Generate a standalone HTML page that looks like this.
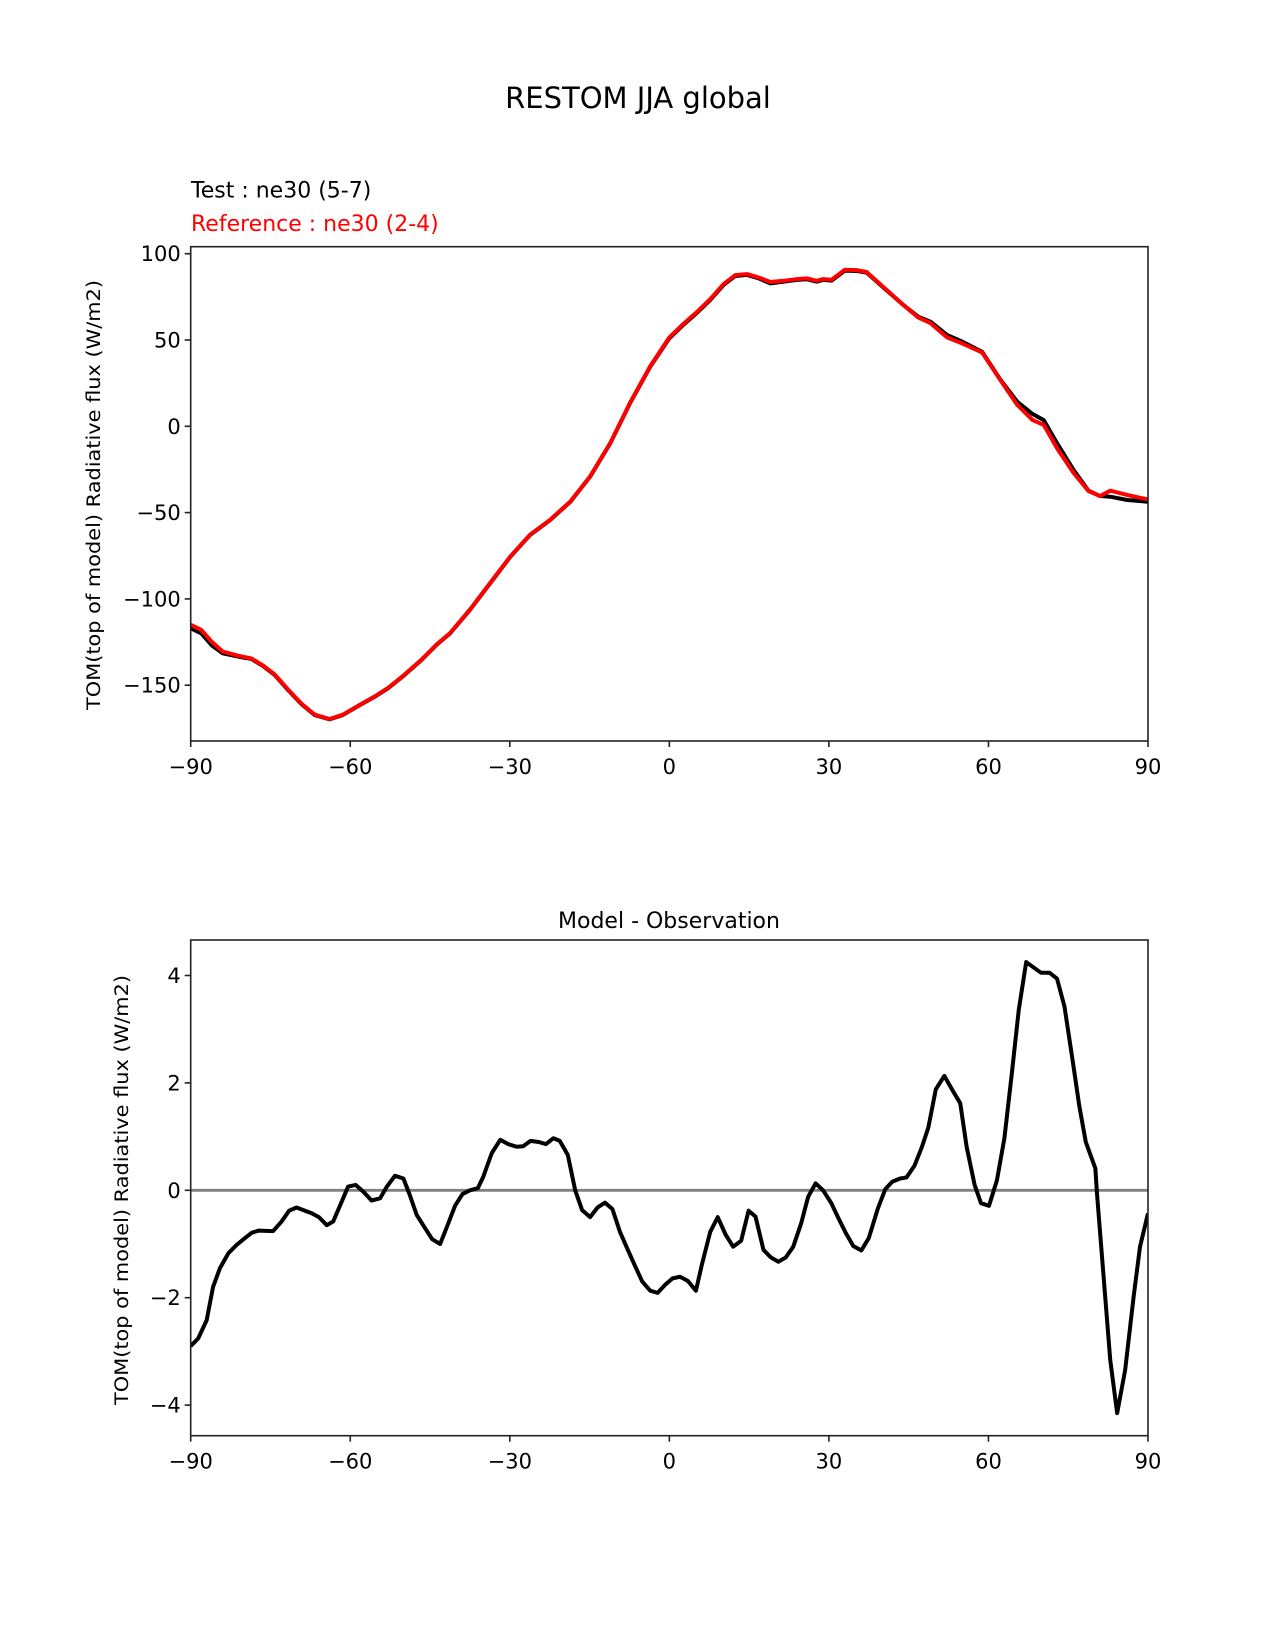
<!DOCTYPE html>
<html><head><meta charset="utf-8"><title>RESTOM JJA global</title>
<style>html,body{margin:0;padding:0;background:#fff;}svg{display:block;font-family:"DejaVu Sans","Liberation Sans",sans-serif;}</style>
</head><body>
<svg id="fig" width="1275" height="1650" viewBox="0 0 1275 1650" xmlns="http://www.w3.org/2000/svg">
<rect x="0" y="0" width="1275" height="1650" fill="#fff"/>
<text x="638" y="108" font-size="29" text-anchor="middle" fill="#000">RESTOM JJA global</text>
<text x="191" y="197.7" font-size="22" fill="#000">Test : ne30 (5-7)</text>
<text x="191" y="231" font-size="22" fill="#ff0000">Reference : ne30 (2-4)</text>
<text x="0" y="0" font-size="18.5" text-anchor="middle" transform="translate(100,495) rotate(-90)" textLength="430" lengthAdjust="spacingAndGlyphs">TOM(top of model) Radiative flux (W/m2)</text>
<text x="669" y="928" font-size="22" text-anchor="middle">Model - Observation</text>
<text x="0" y="0" font-size="18.5" text-anchor="middle" transform="translate(128,1190) rotate(-90)" textLength="430" lengthAdjust="spacingAndGlyphs">TOM(top of model) Radiative flux (W/m2)</text>
<defs>
<clipPath id="clipTop"><rect x="190.7" y="246.7" width="957.3" height="494.3"/></clipPath>
<clipPath id="clipBot"><rect x="190.7" y="940" width="957.3" height="495.7"/></clipPath>
</defs>
<g id="top"></g>
<g id="bot"></g>
</svg>
<script>
const topLat = [-90,-88,-86,-84,-81,-78.6,-76.4,-74.2,-71.7,-69.2,-66.7,-63.9,-61.4,-58.5,-55.4,-52.9,-49.8,-46.6,-43.8,-41.2,-37.5,-33.7,-29.9,-26.2,-22.4,-18.6,-14.9,-11.1,-7.4,-3.6,0,2.6,5.1,7.7,10.2,12.4,14.6,16.8,19,21.5,24,25.8,27.7,28.9,30.5,33,35.2,37.1,40.2,44,46.8,49.1,52.2,54.7,58.8,62.3,65.4,68.3,70.4,72.9,76,78.8,81,82.9,86.1,90];
const testValues = [-117,-120,-127,-131.5,-133.5,-134.8,-138.9,-144.1,-152.8,-160.9,-167.3,-169.8,-167.3,-162.1,-156.7,-151.8,-144.1,-135.4,-126.7,-119.9,-106.4,-91,-75.6,-63,-54.3,-43.7,-29.2,-9.8,13.3,34.5,51,58.7,65.5,73.2,81.9,87.1,87.7,85.7,82.8,83.8,84.8,85.2,83.8,84.8,84.4,90.2,90,89,80.5,70.3,63.5,60.6,52.9,49.6,43.2,26.8,14.3,7.1,3.6,-9.8,-25.3,-37.3,-40.4,-40.8,-42.7,-43.7];
const refValues = [-115,-118,-125,-130.5,-133,-134.5,-138.6,-143.8,-152.5,-160.6,-167,-169.6,-167.1,-161.9,-156.5,-151.6,-143.9,-135.2,-126.5,-119.7,-106.2,-90.8,-75.4,-62.8,-54.1,-43.5,-29,-9.6,13.6,34.8,51.5,59.2,66,73.7,82.4,87.6,88.2,86.2,83.6,84.3,85.3,85.7,84.3,85.3,84.9,90.7,90.5,89.4,80.8,70.3,63,59.8,51.5,48.5,42.8,26.5,12.5,3.6,0.8,-12.7,-27,-37.5,-40.4,-37.3,-39.8,-42.4];
const topYTicks = [100,50,0,-50,-100,-150];
const xTicks = [-90,-60,-30,0,30,60,90];
const botLat = [-90,-88.6,-87,-85.8,-84.5,-82.9,-81.4,-79.8,-78.5,-77.2,-74.5,-72.9,-71.5,-70.1,-67.2,-65.9,-64.4,-63.2,-61.6,-60.4,-59,-57.5,-56,-54.4,-53.1,-51.6,-50,-48.8,-47.5,-45.9,-44.6,-43.1,-41.7,-40.3,-38.9,-37.5,-36,-35,-33.4,-31.8,-30.3,-28.7,-27.5,-26.1,-24.6,-23.2,-21.8,-20.6,-19.1,-17.7,-16.4,-14.9,-13.5,-12.1,-10.7,-9.3,-7.8,-6.4,-5.1,-3.6,-2.2,-0.8,0.6,2,3.5,5,6.1,7.7,9.1,10.6,12,13.5,14.9,16.2,17.7,19.1,20.5,21.9,23.3,24.8,26.1,27.5,28.9,30.4,31.8,33.2,34.6,36.1,37.5,39.2,40.6,41.9,43.4,44.6,46.1,47.5,48.7,50.1,51.7,53.2,54.7,55.9,57.4,58.6,60.1,61.6,63,64.4,65.7,67.1,69.9,71.5,72.9,74.3,75.9,77.1,78.3,80.1,80.4,82,82.9,84.2,85.7,87.3,88.5,90];
const diffValues = [-2.9,-2.76,-2.42,-1.8,-1.45,-1.17,-1.02,-0.89,-0.79,-0.75,-0.76,-0.58,-0.38,-0.32,-0.43,-0.5,-0.65,-0.58,-0.21,0.07,0.1,-0.03,-0.19,-0.15,0.07,0.27,0.22,-0.09,-0.46,-0.71,-0.91,-1.0,-0.65,-0.29,-0.07,0,0.04,0.25,0.69,0.94,0.86,0.81,0.82,0.92,0.9,0.86,0.97,0.92,0.66,0,-0.37,-0.5,-0.32,-0.23,-0.35,-0.77,-1.11,-1.42,-1.7,-1.87,-1.91,-1.76,-1.64,-1.61,-1.69,-1.87,-1.39,-0.77,-0.5,-0.83,-1.05,-0.94,-0.38,-0.49,-1.11,-1.25,-1.33,-1.25,-1.05,-0.61,-0.12,0.13,0,-0.23,-0.52,-0.8,-1.04,-1.12,-0.89,-0.34,0.02,0.16,0.22,0.24,0.46,0.81,1.17,1.88,2.13,1.87,1.62,0.81,0.1,-0.24,-0.29,0.19,0.97,2.18,3.36,4.25,4.05,4.05,3.94,3.42,2.37,1.56,0.9,0.41,-0.05,-2.04,-3.16,-4.15,-3.35,-1.98,-1.05,-0.43];
const botYTicks = [4,2,0,-2,-4];

const NS = "http://www.w3.org/2000/svg";
const X0 = 190.7, X1 = 1148;
function xScale(lat){ return X0 + (lat + 90) / 180 * (X1 - X0); }
function yTop(v){ return 426.3 - v * 1.726; }
function yBot(v){ return 1190.3 - v * 53.7; }
function mk(tag, attrs, parent){ const e = document.createElementNS(NS, tag); for (const k in attrs) e.setAttribute(k, attrs[k]); parent.appendChild(e); return e; }

function drawAxes(g, top, bottom, yTicks, yFn, labelPrefix){
  const frame = mk('rect', {x:X0, y:top, width:X1-X0, height:bottom-top, fill:'none', stroke:'#222', 'stroke-width':1.6}, g);
  
  
  xTicks.forEach(t => {
    const x = xScale(t);
    const tk = mk('line', {x1:x, x2:x, y1:bottom, y2:bottom+6, stroke:'#222', 'stroke-width':1.6}, g);
    
    
    const tl = mk('text', {x:x, y:bottom+33, 'font-size':21, 'text-anchor':'middle'}, g);
    
    
    tl.textContent = (t < 0 ? '\u2212' + Math.abs(t) : String(t));
  });
  yTicks.forEach(t => {
    const y = yFn(t);
    const tk = mk('line', {x1:X0-6, x2:X0, y1:y, y2:y, stroke:'#222', 'stroke-width':1.6}, g);
    
    
    const tl = mk('text', {x:X0-10, y:y+7.5, 'font-size':21, 'text-anchor':'end'}, g);
    
    
    tl.textContent = (t < 0 ? '\u2212' + Math.abs(t) : String(t));
  });
}
function pathD(xs, ys, yFn){ return xs.map((v,i) => (i ? 'L' : 'M') + xScale(v).toFixed(2) + ',' + yFn(ys[i]).toFixed(2)).join(' '); }

const gTop = document.getElementById('top');
const testLine = mk('path', {d:pathD(topLat, testValues, yTop), fill:'none', stroke:'#000', 'stroke-width':4, 'stroke-linejoin':'round', 'clip-path':'url(#clipTop)'}, gTop);


const refLine = mk('path', {d:pathD(topLat, refValues, yTop), fill:'none', stroke:'#ff0000', 'stroke-width':4, 'stroke-linejoin':'round', 'clip-path':'url(#clipTop)'}, gTop);


drawAxes(gTop, 246.7, 741, topYTicks, yTop, 'top');

const gBot = document.getElementById('bot');
const zero = mk('line', {x1:X0, x2:X1, y1:yBot(0), y2:yBot(0), stroke:'#808080', 'stroke-width':2.8}, gBot);


const diffLine = mk('path', {d:pathD(botLat, diffValues, yBot), fill:'none', stroke:'#000', 'stroke-width':4, 'stroke-linejoin':'round', 'clip-path':'url(#clipBot)'}, gBot);


drawAxes(gBot, 940, 1435.7, botYTicks, yBot, 'bottom');
</script>
</body></html>
